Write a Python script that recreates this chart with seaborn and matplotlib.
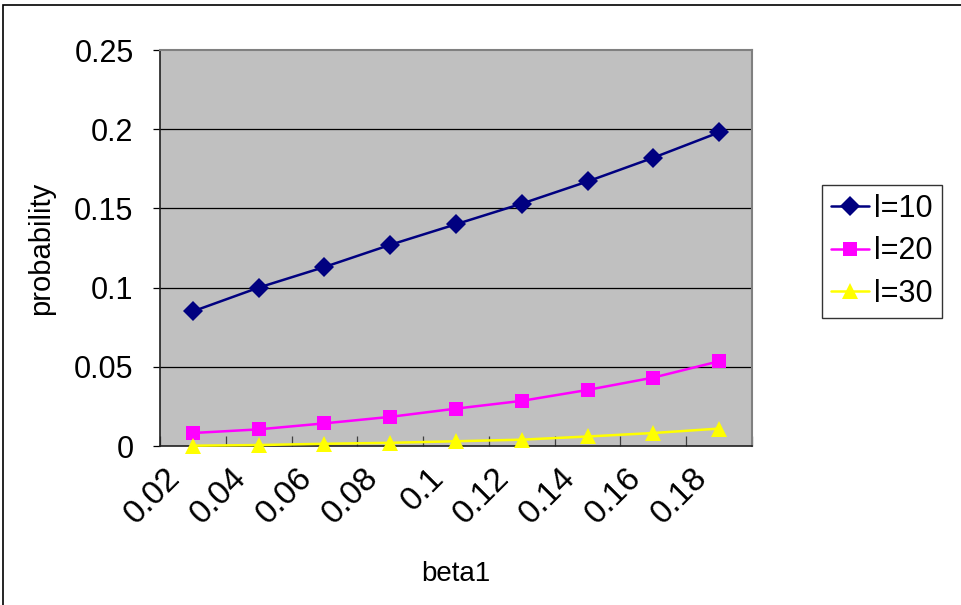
import numpy as np
import pandas as pd
import matplotlib
matplotlib.use("Agg")
import matplotlib.pyplot as plt
import matplotlib.transforms as mtransforms
import seaborn as sns
from matplotlib.patches import Rectangle

# Data
beta1 = ["0.02", "0.04", "0.06", "0.08", "0.1", "0.12", "0.14", "0.16", "0.18"]
l10 = [0.085, 0.100, 0.113, 0.127, 0.140, 0.153, 0.167, 0.182, 0.198]
l20 = [0.0082, 0.0105, 0.0143, 0.0184, 0.0236, 0.0285, 0.0354, 0.0432, 0.0535]
l30 = [0.0002, 0.0006, 0.0014, 0.0020, 0.0030, 0.0040, 0.0060, 0.0082, 0.0110]
series_names = ["l=10", "l=20", "l=30"]
y_ticks = [0, 0.05, 0.1, 0.15, 0.2, 0.25]
y_tick_labels = ["0", "0.05", "0.1", "0.15", "0.2", "0.25"]

sns.set_theme(style="white")
plt.rcParams["font.family"] = ["Liberation Sans", "DejaVu Sans"]
plt.rcParams["text.color"] = "black"
plt.rcParams["axes.labelcolor"] = "black"
plt.rcParams["xtick.color"] = "black"
plt.rcParams["ytick.color"] = "black"

pos = np.arange(len(beta1))
df = pd.DataFrame({
    "pos": np.tile(pos, 3),
    "value": l10 + l20 + l30,
    "series": np.repeat(series_names, len(beta1)),
})

fig = plt.figure(figsize=(9.62, 6.05), dpi=100)
ax = fig.add_axes([160 / 962, 1 - 446 / 605, 592 / 962, 396 / 605])
ax.set_facecolor("#C0C0C0")

styles = {
    "l=10": dict(color="#000080", marker="D", ms=10),
    "l=20": dict(color="#FF00FF", marker="s", ms=10),
    "l=30": dict(color="#FFFF00", marker="^", ms=11),
}
for name in series_names:
    st = styles[name]
    sub = df[df["series"] == name]
    sns.lineplot(data=sub, x="pos", y="value", ax=ax, color=st["color"],
                 marker=st["marker"], markersize=st["ms"], markeredgewidth=0,
                 linewidth=1.8, label=name, legend=False, zorder=3,
                 clip_on=False)

ax.set_xlim(-0.5, len(beta1) - 0.5)
ax.set_ylim(0, 0.25)
ax.set_yticks(y_ticks)
ax.set_yticklabels(y_tick_labels, fontsize=22)
for yv in y_ticks[1:-1]:
    ax.axhline(yv, color="black", linewidth=0.9, zorder=1)

# category labels under the points, tick marks between categories
ax.set_xticks(pos)
ax.set_xticklabels(beta1, fontsize=24, rotation=45, ha="right",
                   rotation_mode="anchor")
ax.tick_params(axis="x", which="major", length=0, pad=12)
shift = mtransforms.ScaledTranslation(-28 / 100, 0, fig.dpi_scale_trans)
for lab in ax.get_xticklabels():
    lab.set_transform(lab.get_transform() + shift)
ax.set_xticks(np.arange(len(beta1) + 1) - 0.5, minor=True)
ax.tick_params(axis="x", which="minor", direction="in", length=7,
               width=0.9, color="#404040", bottom=True)
ax.tick_params(axis="y", direction="out", length=5, width=0.9,
               color="black", left=True, pad=14)

for side in ["top", "right"]:
    ax.spines[side].set_color("#808080")
    ax.spines[side].set_linewidth(1.5)
for side in ["left", "bottom"]:
    ax.spines[side].set_color("#202020")
    ax.spines[side].set_linewidth(1.2)

ax.set_xlabel("beta1", fontsize=20, labelpad=22)
ax.set_ylabel("probability", fontsize=21, labelpad=14)

handles, labels = ax.get_legend_handles_labels()
leg = fig.legend(handles, labels, loc="upper left",
                 bbox_to_anchor=(822 / 962, 1 - 185 / 605),
                 fontsize=22, frameon=True, fancybox=False,
                 edgecolor="black", handlelength=1.25, handletextpad=0.15,
                 borderpad=0.3, labelspacing=0.4, borderaxespad=0)
leg.get_frame().set_linewidth(1.0)

# outer chart border
fig.patches.append(Rectangle((3 / 962, -0.1), 1.2, 1.1 - 5 / 605,
                             transform=fig.transFigure, fill=False,
                             edgecolor="black", linewidth=1.2))

fig.savefig("out.png", dpi=100)
